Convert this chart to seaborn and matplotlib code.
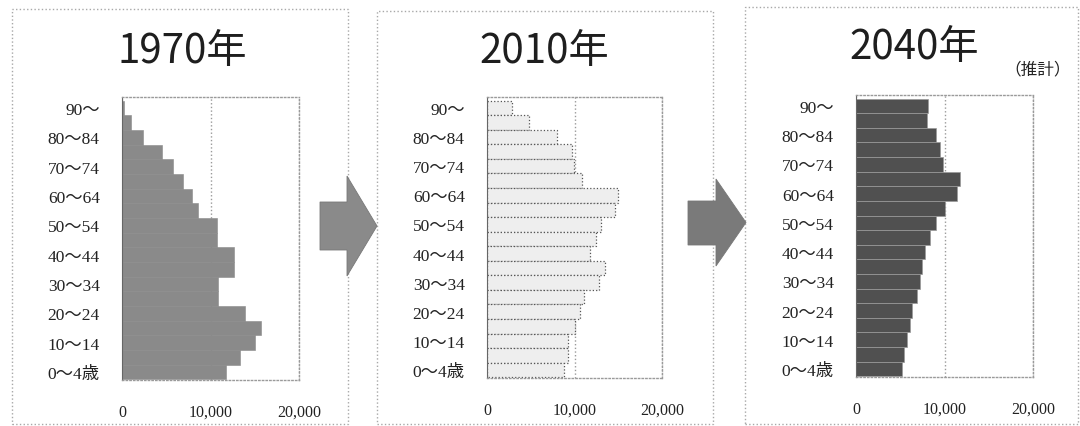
import matplotlib
matplotlib.use('Agg')
import matplotlib.pyplot as plt
from matplotlib.patches import Polygon, Rectangle
import seaborn as sns
import pandas as pd

# age groups, youngest first
age_groups = ['0～4歳', '5～9', '10～14', '15～19', '20～24', '25～29', '30～34',
              '35～39', '40～44', '45～49', '50～54', '55～59', '60～64', '65～69',
              '70～74', '75～79', '80～84', '85～89', '90～']

# population per age group, youngest first
pop_1970 = [11700, 13300, 15000, 15700, 13900, 10800, 10800, 12700, 12700, 10700,
            10700, 8600, 7900, 6900, 5800, 4500, 2400, 1000, 260]
pop_2010 = [8850, 9300, 9300, 10050, 10650, 11100, 12750, 13500, 11800, 12400,
            13050, 14650, 15000, 10850, 9900, 9700, 8000, 4800, 2800]
pop_2040 = [5200, 5420, 5720, 6100, 6290, 6930, 7230, 7480, 7850, 8330,
            9000, 10060, 11370, 11750, 9780, 9450, 9000, 8000, 8170]

titles = ['1970年', '2010年', '2040年']
x_ticks = [0, 10000, 20000]
x_tick_labels = ['0', '10,000', '20,000']

W, H = 1080, 427

sns.set_style('white')
plt.rcParams['font.family'] = ['Liberation Serif', 'Noto Sans CJK JP']


def px_box(x0, y0, x1, y1):
    # pixel box (top-left origin) -> figure fraction rect
    return [x0 / W, 1 - y1 / H, (x1 - x0) / W, (y1 - y0) / H]


def draw_pyramid(ax, values, fill, edge, lw, ls='-'):
    df = pd.DataFrame({'age': age_groups, 'pop': values})
    order = age_groups[::-1]
    sns.barplot(data=df, x='pop', y='age', order=order, orient='h',
                color=fill, saturation=1, width=1.0, edgecolor=edge,
                linewidth=lw, linestyle=ls, ax=ax)

    ax.set_xlim(0, 20000)
    ax.set_ylim(18.55, -0.75)
    ax.set_xticks(x_ticks)
    ax.set_xticklabels(x_tick_labels)
    ax.set_yticks(range(0, 19, 2))
    ax.set_yticklabels(order[::2])
    ax.set_xlabel('')
    ax.set_ylabel('')
    ax.tick_params(length=0, labelsize=12.5, colors='#222222')
    ax.tick_params(axis='x', pad=17, labelsize=11.5)
    ax.tick_params(axis='y', pad=16)

    # dotted frame and vertical grid
    ax.set_axisbelow(True)
    ax.xaxis.grid(True, color='#9a9a9a', linestyle=':', linewidth=1.0)
    ax.yaxis.grid(False)
    for side in ['top', 'right', 'bottom']:
        ax.spines[side].set_linestyle(':')
        ax.spines[side].set_color('#9a9a9a')
        ax.spines[side].set_linewidth(1.0)
    ax.spines['left'].set_color('#666666')
    ax.spines['left'].set_linewidth(0.8)
    return ax


def add_arrow(fig, x0, x_head, x_tip, body_top, body_bot, head_top, head_bot, color):
    y_mid = (head_top + head_bot) / 2
    pts = [(x0, body_top), (x_head, body_top), (x_head, head_top), (x_tip, y_mid),
           (x_head, head_bot), (x_head, body_bot), (x0, body_bot)]
    pts = [(x / W, 1 - y / H) for x, y in pts]
    fig.patches.append(Polygon(pts, closed=True, transform=fig.transFigure,
                               facecolor=color, edgecolor='#777777', linewidth=0.6))


fig = plt.figure(figsize=(W / 100, H / 100), dpi=100)

# panel frames (dotted)
for x0, y0, x1, y1 in [(12, 10, 348, 425), (377, 12, 713, 425), (745, 8, 1078, 425)]:
    fig.patches.append(Rectangle((x0 / W, 1 - y1 / H), (x1 - x0) / W, (y1 - y0) / H,
                                 transform=fig.transFigure, fill=False,
                                 edgecolor='#a8a8a8', linestyle=':', linewidth=1.0))

ax1 = fig.add_axes(px_box(122, 98, 299, 381))
ax2 = fig.add_axes(px_box(487, 98, 662, 379))
ax3 = fig.add_axes(px_box(856, 96, 1033, 378))

draw_pyramid(ax1, pop_1970, '#8a8a8a', '#8a8a8a', 0.4)
draw_pyramid(ax2, pop_2010, '#eeeeee', '#555555', 0.9, ':')
draw_pyramid(ax3, pop_2040, '#505050', '#9a9a9a', 0.5)

# titles
cjk = ['Noto Sans CJK JP']
fig.text(182 / W, 1 - 51 / H, titles[0], ha='center', va='center', fontsize=29, family=cjk, color='#1e1e1e')
fig.text(544 / W, 1 - 51 / H, titles[1], ha='center', va='center', fontsize=29, family=cjk, color='#1e1e1e')
fig.text(914 / W, 1 - 48 / H, titles[2], ha='center', va='center', fontsize=29, family=cjk, color='#1e1e1e')
fig.text(1038 / W, 1 - 70 / H, '（推計）', ha='center', va='center', fontsize=12, family=cjk, color='#222222')

# arrows between panels
add_arrow(fig, 320, 347, 377, 203, 251, 177, 277, '#8a8a8a')
add_arrow(fig, 688, 716, 746, 202, 246, 180, 267, '#7a7a7a')

fig.savefig('out.png', dpi=100)
